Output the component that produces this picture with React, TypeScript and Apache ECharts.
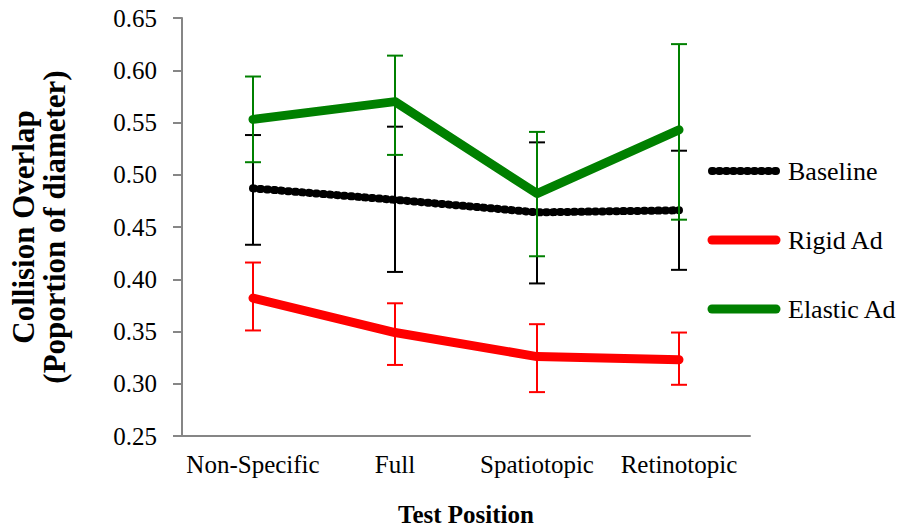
import React, { useEffect, useRef } from "react";
import * as echarts from "echarts";

const categories = ["Non-Specific", "Full", "Spatiotopic", "Retinotopic"];
const baseline = [0.487, 0.476, 0.464, 0.466];
const baselineLow = [0.433, 0.407, 0.396, 0.409];
const baselineHigh = [0.538, 0.546, 0.531, 0.523];
const rigid = [0.382, 0.349, 0.326, 0.323];
const rigidLow = [0.351, 0.318, 0.292, 0.299];
const rigidHigh = [0.416, 0.377, 0.357, 0.349];
const elastic = [0.553, 0.570, 0.482, 0.543];
const elasticLow = [0.512, 0.519, 0.422, 0.457];
const elasticHigh = [0.594, 0.614, 0.541, 0.625];
const legendNames = ["Baseline", "Rigid Ad", "Elastic Ad"];
const legendColors = ["#000000", "#ff0000", "#008000"];

const FONT = '"Liberation Serif", "Times New Roman", serif';

function errSeries(name: string, low: number[], high: number[], color: string, z: number) {
  return {
    type: "custom",
    name: name + " err",
    z,
    silent: true,
    data: low.map((l, i) => [i, l, high[i]]),
    renderItem: (params: any, api: any) => {
      const x = api.value(0);
      const p1 = api.coord([x, api.value(1)]);
      const p2 = api.coord([x, api.value(2)]);
      const hw = 8;
      const style = { stroke: color, lineWidth: 2 };
      return {
        type: "group",
        children: [
          { type: "line", shape: { x1: p1[0], y1: p1[1], x2: p2[0], y2: p2[1] }, style },
          { type: "line", shape: { x1: p1[0] - hw, y1: p1[1], x2: p1[0] + hw, y2: p1[1] }, style },
          { type: "line", shape: { x1: p2[0] - hw, y1: p2[1], x2: p2[0] + hw, y2: p2[1] }, style },
        ],
      };
    },
  };
}

export default function App() {
  const ref = useRef<HTMLDivElement>(null);
  useEffect(() => {
    const chart = echarts.init(ref.current!, null, { renderer: "svg" });
    const legendGraphics: any[] = [];
    legendNames.forEach((n, i) => {
      const y = 171 + i * 69;
      legendGraphics.push({
        type: "line",
        shape: { x1: 712, y1: y, x2: 776, y2: y },
        style: {
          stroke: legendColors[i],
          lineWidth: i === 0 ? 8 : 9,
          lineCap: "round",
          lineDash: i === 0 ? [1, 6] : null,
        },
      });
      legendGraphics.push({
        type: "text",
        x: 788,
        y,
        style: { text: n, fontFamily: FONT, fontSize: 26, fill: "#000", textVerticalAlign: "middle", textAlign: "left" },
      });
    });
    chart.setOption({
      animation: false,
      textStyle: { fontFamily: FONT },
      grid: { left: 182, right: 148, top: 18, bottom: 93, containLabel: false, outerBoundsMode: "none" },
      graphic: legendGraphics,
      xAxis: {
        type: "category",
        data: categories,
        boundaryGap: true,
        axisLine: { lineStyle: { color: "#868686", width: 2 } },
        axisTick: { show: false },
        axisLabel: { fontFamily: FONT, fontSize: 25, color: "#000", margin: 16, interval: 0 },
        name: "Test Position",
        nameLocation: "middle",
        nameGap: 66,
        nameTextStyle: { fontFamily: FONT, fontSize: 25, fontWeight: "bold", color: "#000" },
      },
      yAxis: {
        type: "value",
        min: 0.25,
        max: 0.65,
        interval: 0.05,
        splitLine: { show: false },
        axisLine: { show: true, lineStyle: { color: "#868686", width: 2 } },
        axisTick: { show: true, inside: false, length: 9, lineStyle: { color: "#868686", width: 2 } },
        axisLabel: {
          fontFamily: FONT,
          fontSize: 25,
          color: "#000",
          margin: 25,
          formatter: (v: number) => v.toFixed(2),
        },
        name: "Collision Overlap\n(Poportion of diameter)",
        nameLocation: "middle",
        nameRotate: 90,
        nameGap: 112,
        nameTextStyle: { fontFamily: FONT, fontSize: 31, fontWeight: "bold", color: "#000", lineHeight: 31 },
      },
      series: [
        errSeries("Baseline", baselineLow, baselineHigh, "#000000", 2),
        errSeries("Rigid Ad", rigidLow, rigidHigh, "#ff0000", 2),
        errSeries("Elastic Ad", elasticLow, elasticHigh, "#008000", 4),
        {
          type: "line",
          name: "Baseline",
          data: baseline,
          symbol: "none",
          z: 3,
          lineStyle: { color: "#000", width: 8, type: [1, 6], cap: "round", join: "round" },
        },
        {
          type: "line",
          name: "Rigid Ad",
          data: rigid,
          symbol: "none",
          z: 3,
          lineStyle: { color: "#ff0000", width: 9, cap: "round", join: "round" },
        },
        {
          type: "line",
          name: "Elastic Ad",
          data: elastic,
          symbol: "none",
          z: 3,
          lineStyle: { color: "#008000", width: 9, cap: "round", join: "round" },
        },
      ],
    });
    return () => chart.dispose();
  }, []);
  return <div ref={ref} style={{ position: "absolute", left: 0, top: 0, width: 898, height: 529 }} />;
}
